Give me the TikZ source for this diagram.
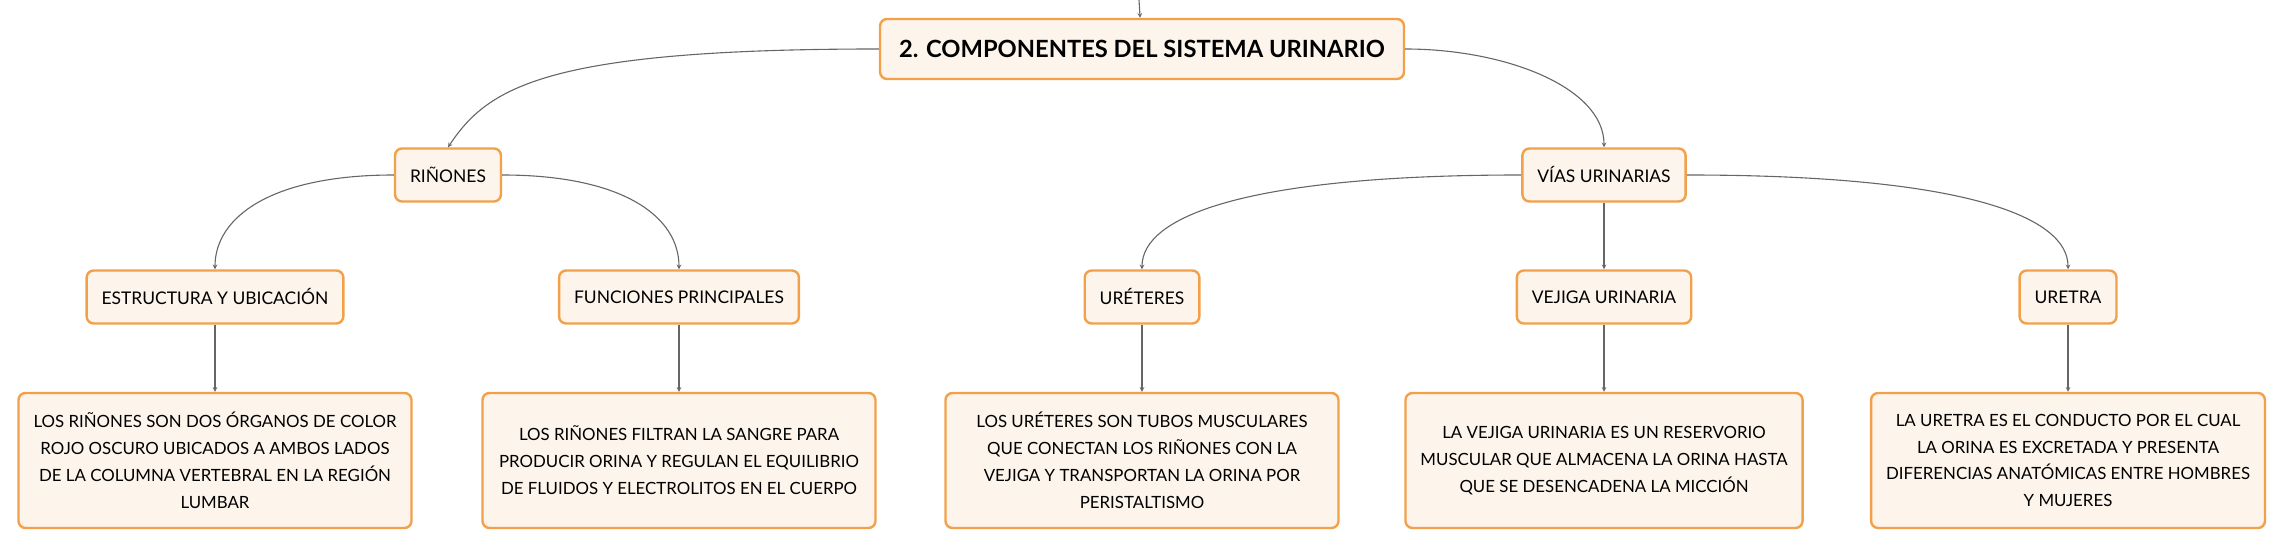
\documentclass[tikz,border=0pt]{standalone}
\usepackage{fontspec}
\setmainfont{Lato}
\usepackage{xcolor}
\usetikzlibrary{shapes.geometric, arrows, positioning}

\definecolor{boxline}{HTML}{F2A14A}
\definecolor{boxfill}{HTML}{FDF4EB}
\definecolor{linkgray}{HTML}{666666}

\begin{document}
\begin{tikzpicture}[x=1bp, y=1bp]
    \tikzstyle{topic} = [rectangle, rounded corners=7bp, draw=boxline, fill=boxfill, line width=2.4bp, inner xsep=15bp, minimum height=53bp, text centered, font=\fontsize{17.5}{21}\selectfont]
    \tikzstyle{main} = [topic, inner xsep=19bp, minimum height=60bp, font=\fontsize{23.8}{28}\selectfont\bfseries]
    \tikzstyle{detail} = [topic, minimum width=393bp, minimum height=135bp, align=center, font=\fontsize{16.9}{27}\selectfont]
    \tikzstyle{link} = [->, >=stealth, draw=linkgray, line width=1.1bp]

    \useasboundingbox (0,0) rectangle (2284,549);

    \node (root) [main] at (1142,500) {2. COMPONENTES DEL SISTEMA URINARIO};
    \coordinate (up) at (1139,549);

    \node (rinones) [topic, below of=root, node distance=126bp, xshift=-694bp] {RIÑONES};
    \node (vias) [topic, below of=root, node distance=126bp, xshift=462bp] {VÍAS URINARIAS};

    \node (estructura) [topic, below of=rinones, node distance=122bp, xshift=-233bp] {ESTRUCTURA Y UBICACIÓN};
    \node (funciones) [topic, below of=rinones, node distance=122bp, xshift=231bp] {FUNCIONES PRINCIPALES};
    \node (ureteres) [topic, below of=vias, node distance=122bp, xshift=-462bp] {URÉTERES};
    \node (vejiga) [topic, below of=vias, node distance=122bp] {VEJIGA URINARIA};
    \node (uretra) [topic, below of=vias, node distance=122bp, xshift=464bp] {URETRA};

    \node (estructuratxt) [detail, below of=estructura, node distance=163.5bp] {LOS RIÑONES SON DOS ÓRGANOS DE COLOR\\ROJO OSCURO UBICADOS A AMBOS LADOS\\DE LA COLUMNA VERTEBRAL EN LA REGIÓN\\LUMBAR};
    \node (funcionestxt) [detail, below of=funciones, node distance=163.5bp] {LOS RIÑONES FILTRAN LA SANGRE PARA\\PRODUCIR ORINA Y REGULAN EL EQUILIBRIO\\DE FLUIDOS Y ELECTROLITOS EN EL CUERPO};
    \node (ureterestxt) [detail, below of=ureteres, node distance=163.5bp] {LOS URÉTERES SON TUBOS MUSCULARES\\QUE CONECTAN LOS RIÑONES CON LA\\VEJIGA Y TRANSPORTAN LA ORINA POR\\PERISTALTISMO};
    \node (vejigatxt) [detail, below of=vejiga, node distance=163.5bp] {LA VEJIGA URINARIA ES UN RESERVORIO\\MUSCULAR QUE ALMACENA LA ORINA HASTA\\QUE SE DESENCADENA LA MICCIÓN};
    \node (uretratxt) [detail, below of=uretra, node distance=163.5bp] {LA URETRA ES EL CONDUCTO POR EL CUAL\\LA ORINA ES EXCRETADA Y PRESENTA\\DIFERENCIAS ANATÓMICAS ENTRE HOMBRES\\Y MUJERES};

    \draw [link] (up) -- (root);
    \draw [link] (root.west) .. controls +(-333,0) and +(40,60) .. (rinones.north);
    \draw [link] (root.east) .. controls +(100,0) and +(0,60) .. (vias.north);

    \draw [link] (rinones.west) .. controls +(-123,0) and +(0,52) .. (estructura.north);
    \draw [link] (rinones.east) .. controls +(122,0) and +(0,52) .. (funciones.north);
    \draw [link] (vias.west) .. controls +(-279,0) and +(0,52) .. (ureteres.north);
    \draw [link] (vias) -- (vejiga);
    \draw [link] (vias.east) .. controls +(280,0) and +(0,52) .. (uretra.north);

    \draw [link] (estructura) -- (estructuratxt);
    \draw [link] (funciones) -- (funcionestxt);
    \draw [link] (ureteres) -- (ureterestxt);
    \draw [link] (vejiga) -- (vejigatxt);
    \draw [link] (uretra) -- (uretratxt);
\end{tikzpicture}
\end{document}
